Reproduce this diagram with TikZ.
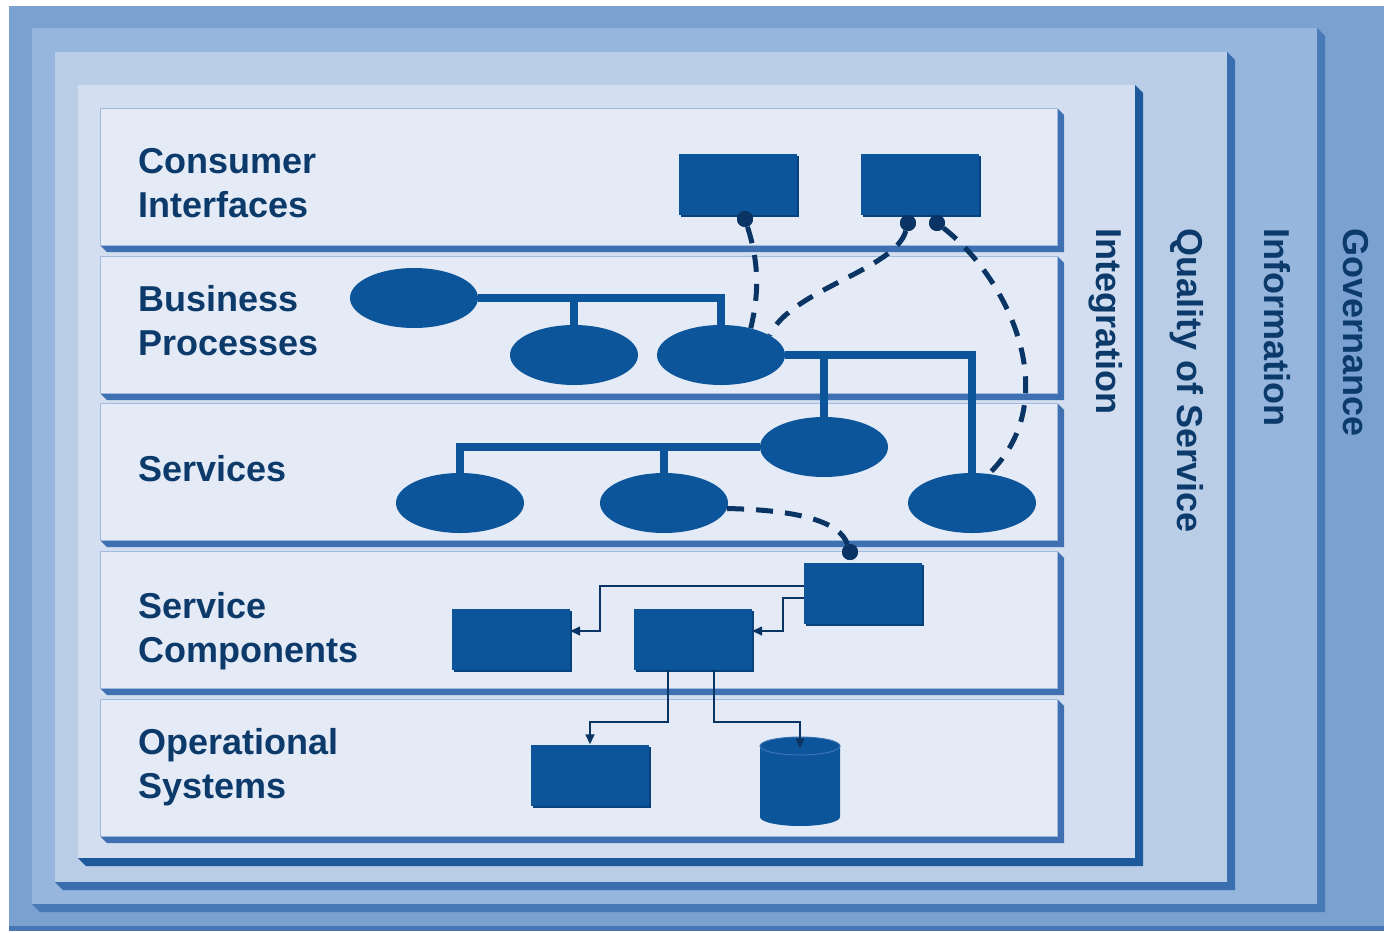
\documentclass[tikz,border=0pt]{standalone}
\usepackage{fontspec}
\setmainfont{Liberation Sans}
\usetikzlibrary{shapes.geometric,arrows.meta}

\definecolor{govern}{RGB}{122,161,207}
\definecolor{governdark}{RGB}{70,118,180}
\definecolor{inform}{RGB}{151,182,221}
\definecolor{informdark}{RGB}{72,122,184}
\definecolor{quality}{RGB}{185,205,231}
\definecolor{qualitydark}{RGB}{58,110,175}
\definecolor{integr}{RGB}{211,223,240}
\definecolor{integrdark}{RGB}{30,90,155}
\definecolor{layerface}{RGB}{228,235,246}
\definecolor{layeredge}{RGB}{160,186,222}
\definecolor{layerdark}{RGB}{62,112,178}
\definecolor{shapeblue}{RGB}{12,85,155}
\definecolor{shapedark}{RGB}{8,66,125}
\definecolor{shapeedge}{RGB}{60,115,180}
\definecolor{navy}{RGB}{10,52,100}
\definecolor{navytext}{RGB}{11,58,107}

\begin{document}
\begin{tikzpicture}[x=1pt, y=-1pt,
    layername/.style ={anchor=north west, align=left, inner sep=0pt, text=navytext,
                       font=\bfseries\fontsize{36}{44}\selectfont},
    sidename/.style ={rotate=-90, anchor=west, inner sep=0pt, text=navytext,
                      font=\bfseries\fontsize{36}{44}\selectfont},
    block/.style ={rectangle, fill=shapeblue, inner sep=0pt, minimum width=118pt, minimum height=61pt,
                   preaction={fill=shapedark, transform canvas={shift={(2pt,-2pt)}}}},
    oval/.style ={ellipse, fill=shapeblue, inner sep=0pt, minimum width=128pt, minimum height=60pt},
    port/.style ={circle, fill=navy, inner sep=0pt, minimum size=16pt},
    link/.style ={draw=shapeblue, line width=8pt},
    wire/.style ={draw=navy, line width=5pt, dash pattern=on 17pt off 12pt},
    feed/.style ={draw=navy, line width=1.5pt, -{Triangle[length=10pt,width=9pt]}}]
   \useasboundingbox (0,0) rectangle (1384,932);

   % nested frames
   \fill[governdark] (9,6) rectangle (1384,931);
   \fill[govern] (9,6) rectangle (1384,926);
   \foreach \xa/\ya/\xb/\yb/\face/\shade in {32/28/1317/904/inform/informdark,
                                             55/52/1227/882/quality/qualitydark,
                                             78/85/1135/858/integr/integrdark}
   {
     \fill[\shade] (\xa,\yb) -- (\xa+8,\yb+8) -- (\xb+8,\yb+8) -- (\xb+8,\ya+8) -- (\xb,\ya) -- cycle;
     \fill[\face] (\xa,\ya) rectangle (\xb,\yb);
   }

   % layers
   \foreach \ya/\yb in {108/245, 256/393, 403/540, 551/688, 699/836}
   {
     \fill[layerdark] (100,\yb) -- (107,\yb+7) -- (1064,\yb+7) -- (1064,\ya+7) -- (1057,\ya) -- cycle;
     \fill[layerface, draw=layeredge, line width=1pt] (100,\ya) rectangle (1057,\yb);
   }

   % labels
   \node[layername] (lci) at (138,148) {Consumer\\Interfaces};
   \node[layername] (lbp) at (138,285) {Business\\Processes};
   \node[layername] (lsv) at (138,455) {Services};
   \node[layername] (lsc) at (138,592) {Service\\Components};
   \node[layername] (los) at (138,728) {Operational\\Systems};
   \node[sidename] (lint) at (1106,228) {Integration};
   \node[sidename] (lqos) at (1187,228) {Quality of Service};
   \node[sidename] (linf) at (1277,228) {Information};
   \node[sidename] (lgov) at (1356,228) {Governance};

   % shapes
   \node[block] (ci1) at (738,184) {};
   \node[block] (ci2) at (920,184) {};
   \node[oval] (bp1) at (414,298) {};
   \node[oval] (bp2) at (574,355) {};
   \node[oval] (bp3) at (721,355) {};
   \node[oval] (sv1) at (824,447) {};
   \node[oval] (sv2) at (460,503) {};
   \node[oval] (sv3) at (664,503) {};
   \node[oval] (sv4) at (972,503) {};
   \node[block] (sc1) at (863,593) {};
   \node[block] (sc2) at (511,639) {};
   \node[block] (sc3) at (693,639) {};
   \node[block] (os1) at (590,775) {};
   % database drum
   \node[inner sep=0pt, minimum width=80pt, minimum height=89pt] (db) at (800,782) {};
   \fill[shapeblue] (760,746) -- (760,817) arc[start angle=180, end angle=0, x radius=40, y radius=9]
                    -- (840,746) -- cycle;
   \filldraw[fill=shapeblue, draw=shapeedge, line width=1pt] (800,746) ellipse [x radius=40, y radius=9];

   % trees
   \draw[link] (bp1.east) -| (bp3.north);
   \draw[link] (bp2.north |- bp1.east) -- (bp2.north);
   \draw[link] (bp3.east) -| (sv4.north);
   \draw[link] (sv1.north |- bp3.east) -- (sv1.north);
   \draw[link] (sv1.west) -| (sv2.north);
   \draw[link] (sv3.north |- sv1.west) -- (sv3.north);

   % dashed wires
   \node[port] (p1) at (745,219) {};
   \node[port] (p2) at (908,223) {};
   \node[port] (p3) at (937,223) {};
   \node[port] (p4) at (850,552) {};
   \draw[wire] (p1) .. controls (758,260) and (760,290) .. (bp3.42);
   \draw[wire] (p2) .. controls (895,270) and (790,290) .. (bp3.22);
   \draw[wire] (p3) .. controls (1010,280) and (1065,400) .. (sv4.60);
   \draw[wire] (sv3.-5) .. controls (800,510) and (840,522) .. (p4);
   \node[port] at (p1) {};
   \node[port] at (p2) {};
   \node[port] at (p3) {};
   \node[port] at (p4) {};

   % thin arrows
   \draw[feed] (sc1.west |- 0,586) -| (600,631) -- (sc2.east |- 0,631);
   \draw[feed] (sc1.west |- 0,598) -| (783,631) -- (sc3.east |- 0,631);
   \draw[feed] (sc3.south -| 668,0) -- (668,722) -| (os1.north);
   \draw[feed] (sc3.south -| 714,0) -- (714,722) -| ([yshift=-11pt]db.north);
 \end{tikzpicture}
\end{document}
